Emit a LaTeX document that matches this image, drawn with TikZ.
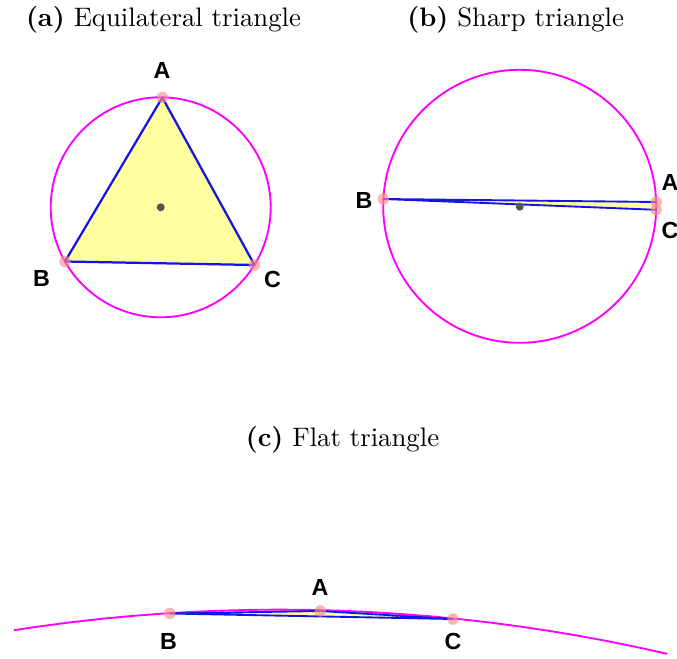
\documentclass[tikz,border=0pt]{standalone}
\usepackage{fontspec}
\newfontfamily\lblfont{Liberation Sans}
\definecolor{circmag}{RGB}{255,0,255}
\definecolor{triblue}{RGB}{20,20,230}
\definecolor{trifill}{RGB}{255,255,160}
\definecolor{vpink}{RGB}{255,140,140}
\definecolor{cgray}{RGB}{85,85,85}
\tikzset{
  circum/.style={draw=circmag, line width=0.75pt},
  tri/.style={draw=triblue, fill=trifill, line width=0.9pt, line join=round},
  vdot/.style={circle, fill=vpink, fill opacity=0.65, inner sep=0pt, minimum size=4.6pt},
  cdot/.style={circle, fill=cgray, inner sep=0pt, minimum size=3.2pt},
  vlabel/.style={font=\lblfont\bfseries\fontsize{9.3}{11}\selectfont, inner sep=0pt},
  title/.style={anchor=base, inner sep=0pt, font=\fontsize{10.7}{13}\selectfont}
}
\begin{document}
\begin{tikzpicture}[x=0.4pt, y=-0.4pt]
\useasboundingbox (0,0) rectangle (677,658);
% ---------- (a)
\node[title] (ta) at (163.5,27) {\textbf{(a)} Equilateral triangle};
\coordinate (Oa) at (160.7,207.3);
\draw[circum] (Oa) circle[radius=110];
\coordinate (aA) at (162.3,97.5);
\coordinate (aB) at (65,261.5);
\coordinate (aC) at (254.5,265);
\draw[tri] (aA) -- (aB) -- (aC) -- cycle;
\node[cdot] (ca) at (Oa) {};
\node[vdot] (daA) at (aA) {};
\node[vdot] (daB) at (aB) {};
\node[vdot] (daC) at (aC) {};
\node[vlabel] (laA) at (162,71) {A};
\node[vlabel] (laB) at (41.5,278.5) {B};
\node[vlabel] (laC) at (272.5,279.5) {C};
% ---------- (b)
\node[title] (tb) at (515.7,27) {\textbf{(b)} Sharp triangle};
\coordinate (Ob) at (519.7,206.3);
\draw[circum] (Ob) circle[radius=136.5];
\coordinate (bA) at (656.2,202);
\coordinate (bB) at (383.3,199);
\coordinate (bC) at (656.2,209.8);
\draw[tri, line width=0.75pt] (bA) -- (bB) -- (bC) -- cycle;
\node[cdot] (cb) at (519.7,206.7) {};
\node[vdot] (dbA) at (bA) {};
\node[vdot] (dbB) at (bB) {};
\node[vdot] (dbC) at (bC) {};
\node[vlabel] (lbA) at (670,182.7) {A};
\node[vlabel] (lbB) at (364,201) {B};
\node[vlabel] (lbC) at (670,230) {C};
% ---------- (c)
\node[title] (tc) at (342.5,446) {\textbf{(c)} Flat triangle};
\draw[circum] plot[domain=-8.85:13.0, samples=80, smooth] ({279.3+1725*sin(\x)}, {2334.6-1725*cos(\x)});
\coordinate (cA) at (320.3,611);
\coordinate (cB) at (169.7,613.5);
\coordinate (cC) at (453,619);
\draw[tri, line width=0.75pt] (cA) -- (cB) -- (cC) -- cycle;
\node[vdot] (dcA) at (cA) {};
\node[vdot] (dcB) at (cB) {};
\node[vdot] (dcC) at (cC) {};
\node[vlabel] (lcA) at (320,587) {A};
\node[vlabel] (lcB) at (168.5,641.5) {B};
\node[vlabel] (lcC) at (453,641.5) {C};
\end{tikzpicture}
\end{document}
